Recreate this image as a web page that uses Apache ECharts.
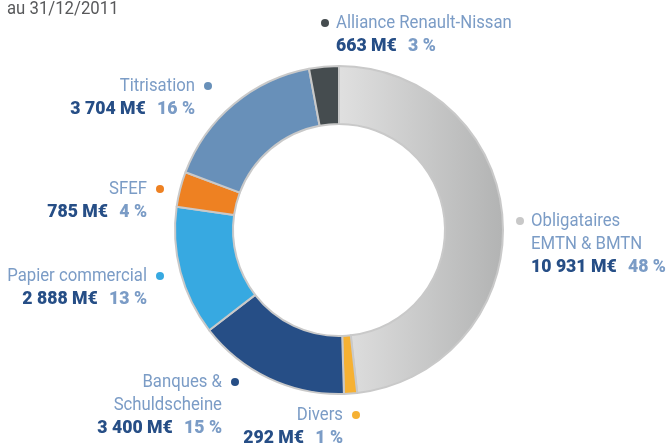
<!DOCTYPE html>
<html>
<head>
    <meta charset="utf-8">
    <title>Sources de financement au 31/12/2011</title>
    <script type="text/javascript" src="https://cdn.jsdelivr.net/npm/echarts@6/dist/echarts.min.js"></script>
    <style>
        html, body { margin: 0; padding: 0; background: #fff; }
    </style>
</head>
<body>
<div id="main" style="width:667px;height:446px;"></div>

<script type="text/javascript">
    // données
    var names = ['Obligataires\nEMTN & BMTN', 'Divers', 'Banques &\nSchuldscheine', 'Papier commercial', 'SFEF', 'Titrisation', 'Alliance Renault-Nissan'];
    var amounts = ['10 931', '292', '3 400', '2 888', '785', '3 704', '663'];
    var values = [10931, 292, 3400, 2888, 785, 3704, 663];
    var percents = [48, 1, 15, 13, 4, 16, 3];

    var chart = echarts.init(document.getElementById('main'));

    var colors = [
        new echarts.graphic.LinearGradient(0, 0, 1, 0, [
            {offset: 0, color: '#e0e0e0'},
            {offset: 1, color: '#b2b3b3'}
        ]),
        '#f6b133', '#264e86', '#37a9e1', '#ee8122', '#6890b9', '#454c4f'
    ];
    var dotColors = ['#c8c8c8', '#f6b133', '#264e86', '#37a9e1', '#ee8122', '#6890b9', '#454c4f'];

    // position des étiquettes : [x, y centre 1re ligne, alignement]
    var labelPos = [
        [531, 221, 'left'],
        [343, 415, 'right'],
        [222, 382, 'right'],
        [147, 276, 'right'],
        [147, 189, 'right'],
        [195, 86, 'right'],
        [336, 23, 'left']
    ];

    var fontFamily = 'Roboto, sans-serif';
    var lh = 23;
    var squeeze = 0.93; // police condensée

    var graphics = [{
        type: 'text',
        x: 7,
        y: 0,
        scaleX: squeeze,
        style: {
            text: 'au 31/12/2011',
            fill: '#58595b',
            font: '18px ' + fontFamily
        }
    }];

    names.forEach(function (n, i) {
        var p = labelPos[i];
        var right = p[2] === 'right';
        graphics.push({
            type: 'text',
            x: p[0],
            y: p[1] - lh / 2,
            scaleX: squeeze,
            style: {
                text: n.split('\n').map(function (s) { return '{n|' + s + '}'; }).join('\n') +
                    '\n{v|' + amounts[i] + ' M€}{p|' + percents[i] + ' %}',
                align: p[2],
                verticalAlign: 'top',
                rich: {
                    n: {fill: '#7b9cc6', fontSize: 18, fontFamily: fontFamily, lineHeight: lh},
                    v: {fill: '#264e86', fontSize: 19, fontWeight: 900, fontFamily: fontFamily, lineHeight: lh},
                    p: {fill: '#7b9cc6', fontSize: 19, fontWeight: 900, fontFamily: fontFamily, lineHeight: lh, padding: [0, 0, 0, 12]}
                }
            }
        });
        graphics.push({
            type: 'circle',
            shape: {cx: right ? p[0] + 13 : p[0] - 11, cy: p[1], r: 4},
            style: {fill: dotColors[i]}
        });
    });

    var option = {
        backgroundColor: '#fff',
        animation: false,
        graphic: graphics,
        series: [{
            type: 'pie',
            center: [339, 230],
            radius: [106, 164],
            startAngle: 90,
            clockwise: true,
            label: {show: false},
            labelLine: {show: false},
            emphasis: {disabled: true},
            itemStyle: {
                borderColor: '#c9c9c9',
                borderWidth: 2
            },
            data: values.map(function (v, i) {
                return {name: names[i], value: v, itemStyle: {color: colors[i]}};
            })
        }]
    };
    chart.setOption(option);
</script>
</body>
</html>
